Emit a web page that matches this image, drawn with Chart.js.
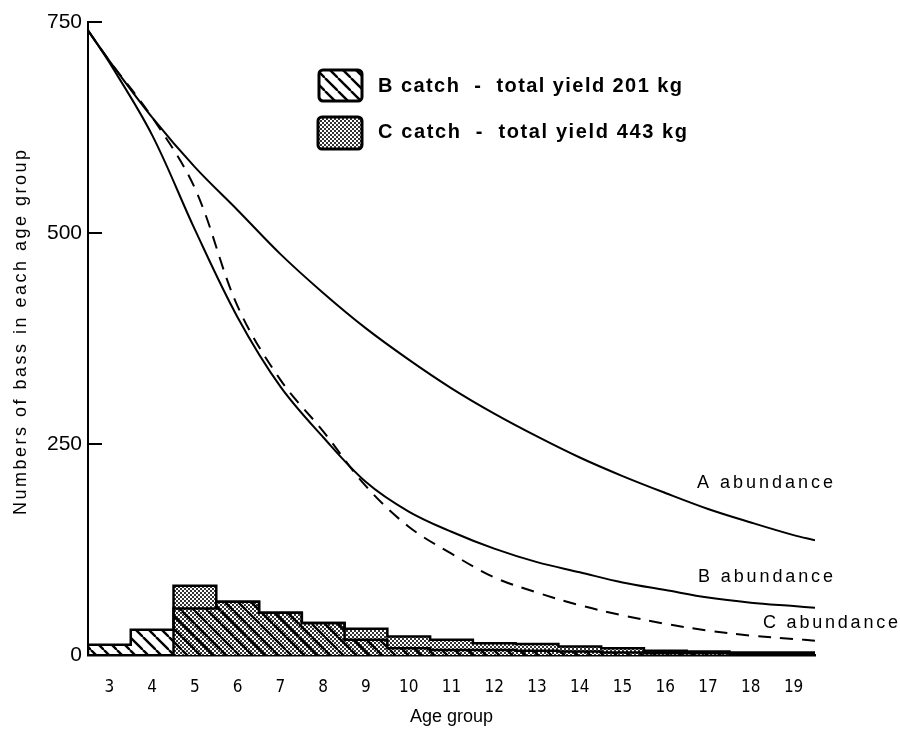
<!DOCTYPE html>
<html>
<head>
<meta charset="utf-8">
<script src="https://cdn.jsdelivr.net/npm/chart.js@4.4.1/dist/chart.umd.min.js"></script>
<style>
  html, body { margin: 0; background: #fff; }
  #wrap { width: 900px; height: 730px; }
</style>
</head>
<body>
<div id="wrap"><canvas id="chart" width="900" height="730"></canvas></div>
<script>
// catch per age group (numbers of bass)
const ages = [3, 4, 5, 6, 7, 8, 9, 10, 11, 12, 13, 14, 15, 16, 17, 18, 19];
const bCatch = [12, 30, 55, 63, 50, 38, 18, 8, 6, 6, 5, 4, 3, 2, 2, 1, 1];
const cCatch = [null, null, 82, 63, 50, 38, 31, 22, 18, 14, 13, 10, 8, 5, 4, 3, 3];

// abundance curves, sampled at the edges and at each age group
const curveAges = [2.5, 3, 4, 5, 6, 7, 8, 9, 10, 11, 12, 13, 14, 15, 16, 17, 18, 19, 19.5];
const aAbundance = [740, 704, 637, 578, 527, 475, 429, 387, 350, 316, 286, 259, 234, 212, 192, 173, 157, 142, 136];
const bAbundance = [740, 702, 616, 504, 400, 318, 258, 205, 170, 146, 126, 110, 98, 86, 77, 68, 62, 58, 56];
const cAbundance = [740, 704, 637, 553, 413, 326, 265, 200, 152, 120, 92, 74, 59, 47, 37, 29, 23, 19, 17];

const yTicks = [0, 250, 500, 750];
const legendLabels = ['B catch  -  total yield 201 kg', 'C catch  -  total yield 443 kg'];
const curveLabels = ['A abundance', 'B abundance', 'C abundance'];
const yTitle = 'Numbers of bass in each age group';

const labelFont = '"Liberation Sans", Arial, sans-serif';

// fill patterns
function hatchPattern() {
  const c = document.createElement('canvas');
  c.width = 13; c.height = 13;
  const g = c.getContext('2d');
  g.strokeStyle = '#000';
  g.lineWidth = 2.4;
  for (const off of [-13, 0, 13]) {
    g.beginPath();
    g.moveTo(off, 0);
    g.lineTo(off + 13, 13);
    g.stroke();
  }
  return g.createPattern(c, 'repeat');
}

function stipplePattern() {
  const c = document.createElement('canvas');
  c.width = 4; c.height = 4;
  const g = c.getContext('2d');
  g.fillStyle = '#fff';
  g.fillRect(0, 0, 4, 4);
  g.fillStyle = '#333';
  g.fillRect(0, 0, 2, 2);
  g.fillRect(2, 2, 2, 2);
  return g.createPattern(c, 'repeat');
}

const hatch = hatchPattern();
const stipple = stipplePattern();

// histogram outline built from a catch series
function outline(vals) {
  const pts = [];
  let started = false;
  vals.forEach((v, i) => {
    if (v == null) return;
    const a = ages[i];
    if (!started) { pts.push({ x: a - 0.5, y: 0 }); started = true; }
    pts.push({ x: a - 0.5, y: v }, { x: a + 0.5, y: v });
  });
  pts.push({ x: ages[ages.length - 1] + 0.5, y: 0 });
  return pts;
}

const toXY = (xs, ys) => xs.map((x, i) => ({ x: x, y: ys[i] }));

function spacedText(ctx, text, x, y, width) {
  ctx.letterSpacing = '0px';
  const w = ctx.measureText(text).width;
  const sp = Math.max(0, (width - w) / (text.length - 1));
  ctx.letterSpacing = sp + 'px';
  ctx.fillText(text, x, y);
  ctx.letterSpacing = '0px';
}

const extras = {
  id: 'extras',
  afterDraw(chart) {
    const ctx = chart.ctx;
    const y = chart.scales.y;
    ctx.save();
    // inward tick marks
    ctx.strokeStyle = '#000';
    ctx.lineWidth = 2;
    yTicks.slice(1).forEach(v => {
      const py = y.getPixelForValue(v);
      ctx.beginPath();
      ctx.moveTo(y.right, py);
      ctx.lineTo(y.right + 14, py);
      ctx.stroke();
    });

    ctx.fillStyle = '#000';
    ctx.textBaseline = 'middle';

    // y axis title
    ctx.save();
    ctx.translate(21, 515);
    ctx.rotate(-Math.PI / 2);
    ctx.font = '18px ' + labelFont;
    spacedText(ctx, yTitle, 0, 0, 365);
    ctx.restore();

    // legend
    const boxes = [[319, 70, 43, 31, hatch], [318, 117, 44, 32, stipple]];
    const textY = [86, 132];
    const textW = [304, 309];
    ctx.font = '600 20px ' + labelFont;
    boxes.forEach((b, i) => {
      ctx.beginPath();
      ctx.roundRect(b[0], b[1], b[2], b[3], 4);
      ctx.fillStyle = '#fff';
      ctx.fill();
      ctx.fillStyle = b[4];
      ctx.fill();
      ctx.lineWidth = 3;
      ctx.stroke();
      ctx.fillStyle = '#000';
      spacedText(ctx, legendLabels[i], 378, textY[i], textW[i]);
    });

    // curve labels
    ctx.font = '18px ' + labelFont;
    const lab = [[697, 483, 136], [698, 577, 135], [763, 623, 135]];
    lab.forEach((l, i) => spacedText(ctx, curveLabels[i], l[0], l[1], l[2]));
    ctx.restore();
  }
};

const curve = { type: 'line', borderColor: '#000', borderWidth: 2, pointRadius: 0, tension: 0.35, order: 0 };

new Chart(document.getElementById('chart'), {
  data: {
    datasets: [
      Object.assign({ label: 'A abundance', data: toXY(curveAges, aAbundance) }, curve),
      Object.assign({ label: 'B abundance', data: toXY(curveAges, bAbundance) }, curve),
      Object.assign({ label: 'C abundance', data: toXY(curveAges, cAbundance), borderDash: [13, 9] }, curve),
      {
        type: 'line', label: 'B outline', data: outline(bCatch),
        borderColor: '#000', borderWidth: 2.5, pointRadius: 0, tension: 0, order: 1
      },
      {
        type: 'line', label: 'C outline', data: outline(cCatch),
        borderColor: '#000', borderWidth: 2.5, pointRadius: 0, tension: 0, order: 1
      },
      {
        type: 'bar', label: 'B catch', data: toXY(ages, bCatch),
        backgroundColor: hatch, borderWidth: 0,
        barPercentage: 1, categoryPercentage: 1, grouped: false, order: 2
      },
      {
        type: 'bar', label: 'C catch', data: toXY(ages, cCatch),
        backgroundColor: stipple, borderWidth: 0,
        barPercentage: 1, categoryPercentage: 1, grouped: false, order: 3
      }
    ]
  },
  options: {
    responsive: false,
    animation: false,
    layout: { padding: { left: 0, top: 22, right: 85, bottom: 0 } },
    plugins: { legend: { display: false }, tooltip: { enabled: false } },
    scales: {
      x: {
        type: 'linear', min: 2.5, max: 19.5, offset: false,
        afterBuildTicks: s => { s.ticks = ages.map(v => ({ value: v })); },
        afterFit: s => { s.height = 75; },
        grid: { display: false, drawTicks: false, offset: false },
        border: { display: true, color: '#000', width: 2.5 },
        ticks: {
          color: '#000', padding: 22, maxRotation: 0, autoSkip: false,
          font: { family: '"Liberation Sans Narrow", "DejaVu Sans Condensed", sans-serif', size: 17 }
        },
        title: {
          display: true, text: 'Age group', color: '#000',
          font: { family: labelFont, size: 18 },
          padding: { top: 0, bottom: 2 }
        }
      },
      y: {
        min: 0, max: 750,
        afterBuildTicks: s => { s.ticks = yTicks.map(v => ({ value: v })); },
        afterFit: s => { s.width = 88; },
        grid: { display: false, drawTicks: false },
        border: { display: true, color: '#000', width: 2 },
        ticks: {
          color: '#000', padding: 6,
          font: { family: labelFont, size: 21 }
        }
      }
    }
  },
  plugins: [extras]
});
</script>
</body>
</html>
